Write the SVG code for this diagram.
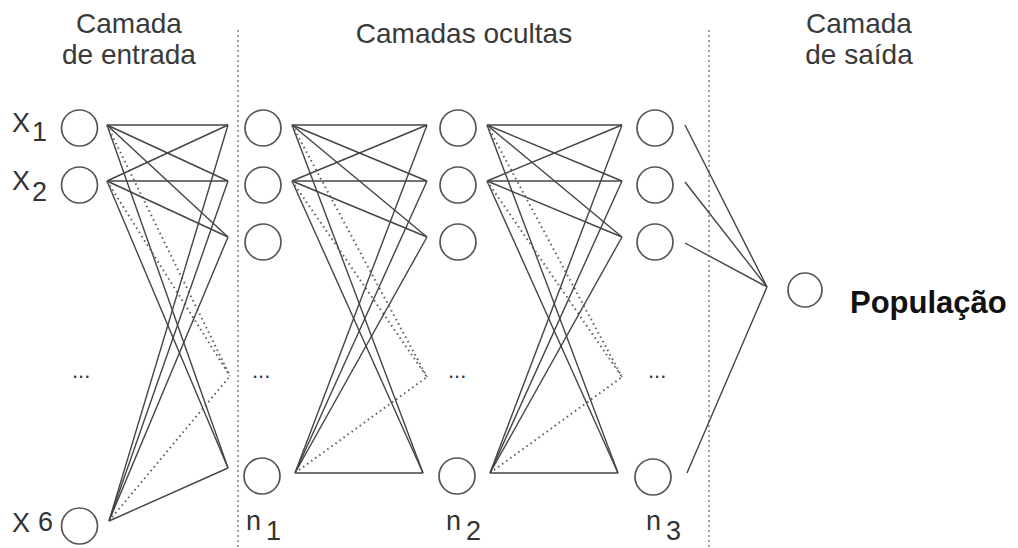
<svg xmlns="http://www.w3.org/2000/svg" width="1018" height="548" viewBox="0 0 1018 548">
  <style>
    .bg { fill: #ffffff; }
    .node { fill: #ffffff; stroke: #555555; stroke-width: 1.7; }
    .edge { stroke: #444444; stroke-width: 1.4; fill: none; }
    .dot { stroke: #5e5e5e; stroke-width: 2; fill: none; stroke-dasharray: 1.5 3.5; }
    .sep { stroke: #6e6e6e; stroke-width: 1.3; stroke-dasharray: 2 3; fill: none; }
    .head { font-family: "Liberation Sans", Arial, sans-serif; font-size: 28px; fill: #3a3a3a; text-anchor: middle; }
    .lbl { font-family: "Liberation Sans", Arial, sans-serif; font-size: 27px; fill: #333333; }
    .ell { font-family: "Liberation Sans", Arial, sans-serif; font-size: 22px; fill: #333333; }
    .out { font-family: "Liberation Sans", Arial, sans-serif; font-size: 31px; font-weight: bold; fill: #111111; }
  </style>

  <rect class="bg" x="0" y="0" width="1018" height="548"/>

  <!-- layer separators -->
  <g id="separators">
    <line class="sep" x1="238" y1="30" x2="238" y2="548"/>
    <line class="sep" x1="709" y1="30" x2="709" y2="548"/>
  </g>

  <!-- layer titles -->
  <g id="titles">
    <text class="head" x="129" y="33">Camada</text>
    <text class="head" x="129" y="64">de entrada</text>
    <text class="head" x="464" y="43">Camadas ocultas</text>
    <text class="head" x="859" y="33">Camada</text>
    <text class="head" x="859" y="64">de saída</text>
  </g>

  <!-- connections between layers -->
  <g id="connectors">
    <!-- input layer -> hidden layer 1 -->
    <g id="conn-in-h1">
      <line class="edge" x1="107" y1="125" x2="228" y2="125"/>
      <line class="edge" x1="107" y1="125" x2="228" y2="181"/>
      <line class="edge" x1="107" y1="125" x2="228" y2="237"/>
      <line class="edge" x1="107" y1="125" x2="228" y2="468"/>
      <line class="dot" x1="107" y1="125" x2="230" y2="376"/>
      <line class="edge" x1="107" y1="181" x2="228" y2="125"/>
      <line class="edge" x1="107" y1="181" x2="228" y2="181"/>
      <line class="edge" x1="107" y1="181" x2="228" y2="237"/>
      <line class="edge" x1="107" y1="181" x2="228" y2="468"/>
      <line class="dot" x1="107" y1="181" x2="230" y2="376"/>
      <line class="edge" x1="109" y1="521" x2="228" y2="125"/>
      <line class="edge" x1="109" y1="521" x2="228" y2="181"/>
      <line class="edge" x1="109" y1="521" x2="228" y2="237"/>
      <line class="edge" x1="109" y1="521" x2="228" y2="468"/>
      <line class="dot" x1="109" y1="521" x2="230" y2="376"/>
    </g>
    <!-- hidden layer 1 -> hidden layer 2 -->
    <g id="conn-h1-h2">
      <line class="edge" x1="292" y1="125" x2="427" y2="125"/>
      <line class="edge" x1="292" y1="125" x2="427" y2="181"/>
      <line class="edge" x1="292" y1="125" x2="427" y2="237"/>
      <line class="edge" x1="292" y1="125" x2="423" y2="473"/>
      <line class="dot" x1="292" y1="125" x2="427" y2="377"/>
      <line class="edge" x1="292" y1="181" x2="427" y2="125"/>
      <line class="edge" x1="292" y1="181" x2="427" y2="181"/>
      <line class="edge" x1="292" y1="181" x2="427" y2="237"/>
      <line class="edge" x1="292" y1="181" x2="423" y2="473"/>
      <line class="dot" x1="292" y1="181" x2="427" y2="377"/>
      <line class="edge" x1="295" y1="473" x2="427" y2="125"/>
      <line class="edge" x1="295" y1="473" x2="427" y2="181"/>
      <line class="edge" x1="295" y1="473" x2="427" y2="237"/>
      <line class="edge" x1="295" y1="473" x2="423" y2="473"/>
      <line class="dot" x1="295" y1="473" x2="427" y2="377"/>
    </g>
    <!-- hidden layer 2 -> hidden layer 3 -->
    <g id="conn-h2-h3">
      <line class="edge" x1="487" y1="125" x2="622" y2="125"/>
      <line class="edge" x1="487" y1="125" x2="622" y2="181"/>
      <line class="edge" x1="487" y1="125" x2="622" y2="237"/>
      <line class="edge" x1="487" y1="125" x2="618" y2="473"/>
      <line class="dot" x1="487" y1="125" x2="622" y2="377"/>
      <line class="edge" x1="487" y1="181" x2="622" y2="125"/>
      <line class="edge" x1="487" y1="181" x2="622" y2="181"/>
      <line class="edge" x1="487" y1="181" x2="622" y2="237"/>
      <line class="edge" x1="487" y1="181" x2="618" y2="473"/>
      <line class="dot" x1="487" y1="181" x2="622" y2="377"/>
      <line class="edge" x1="490" y1="473" x2="622" y2="125"/>
      <line class="edge" x1="490" y1="473" x2="622" y2="181"/>
      <line class="edge" x1="490" y1="473" x2="622" y2="237"/>
      <line class="edge" x1="490" y1="473" x2="618" y2="473"/>
      <line class="dot" x1="490" y1="473" x2="622" y2="377"/>
    </g>
    <!-- hidden layer 3 -> output -->
    <g id="conn-h3-out">
      <line class="edge" x1="685" y1="125" x2="767" y2="287"/>
      <line class="edge" x1="685" y1="182" x2="767" y2="287"/>
      <line class="edge" x1="685" y1="243" x2="767" y2="287"/>
      <line class="edge" x1="687" y1="473" x2="767" y2="287"/>
    </g>
  </g>

  <!-- input layer -->
  <g id="input-x1">
    <circle class="node" cx="79.5" cy="128" r="18"/>
    <text class="lbl" x="12" y="132">X</text>
    <text class="lbl" x="32" y="141">1</text>
  </g>
  <g id="input-x2">
    <circle class="node" cx="79.5" cy="185" r="18"/>
    <text class="lbl" x="12" y="190">X</text>
    <text class="lbl" x="32" y="201">2</text>
  </g>
  <g id="input-ellipsis">
    <text class="ell" x="72" y="378">...</text>
  </g>
  <g id="input-x6">
    <circle class="node" cx="79.5" cy="526" r="18"/>
    <text class="lbl" x="12" y="532">X</text>
    <text class="lbl" x="38" y="531">6</text>
  </g>

  <!-- hidden layer 1 -->
  <g id="h1-1"><circle class="node" cx="263" cy="128" r="18"/></g>
  <g id="h1-2"><circle class="node" cx="263" cy="185" r="18"/></g>
  <g id="h1-3"><circle class="node" cx="263" cy="242" r="18"/></g>
  <g id="h1-ellipsis"><text class="ell" x="252" y="378">...</text></g>
  <g id="h1-n">
    <circle class="node" cx="262" cy="476" r="18"/>
    <text class="lbl" x="246" y="530">n</text>
    <text class="lbl" x="266" y="540">1</text>
  </g>

  <!-- hidden layer 2 -->
  <g id="h2-1"><circle class="node" cx="458" cy="128" r="18"/></g>
  <g id="h2-2"><circle class="node" cx="458" cy="185" r="18"/></g>
  <g id="h2-3"><circle class="node" cx="458" cy="242" r="18"/></g>
  <g id="h2-ellipsis"><text class="ell" x="448" y="378">...</text></g>
  <g id="h2-n">
    <circle class="node" cx="457" cy="476" r="18"/>
    <text class="lbl" x="446" y="530">n</text>
    <text class="lbl" x="466" y="540">2</text>
  </g>

  <!-- hidden layer 3 -->
  <g id="h3-1"><circle class="node" cx="655" cy="128" r="18"/></g>
  <g id="h3-2"><circle class="node" cx="655" cy="185" r="18"/></g>
  <g id="h3-3"><circle class="node" cx="655" cy="242" r="18"/></g>
  <g id="h3-ellipsis"><text class="ell" x="648" y="378">...</text></g>
  <g id="h3-n">
    <circle class="node" cx="653" cy="477" r="18"/>
    <text class="lbl" x="646" y="530">n</text>
    <text class="lbl" x="666" y="540">3</text>
  </g>

  <!-- output layer -->
  <g id="output">
    <circle class="node" cx="805" cy="290" r="17"/>
    <text class="out" x="850" y="313">População</text>
  </g>
</svg>
